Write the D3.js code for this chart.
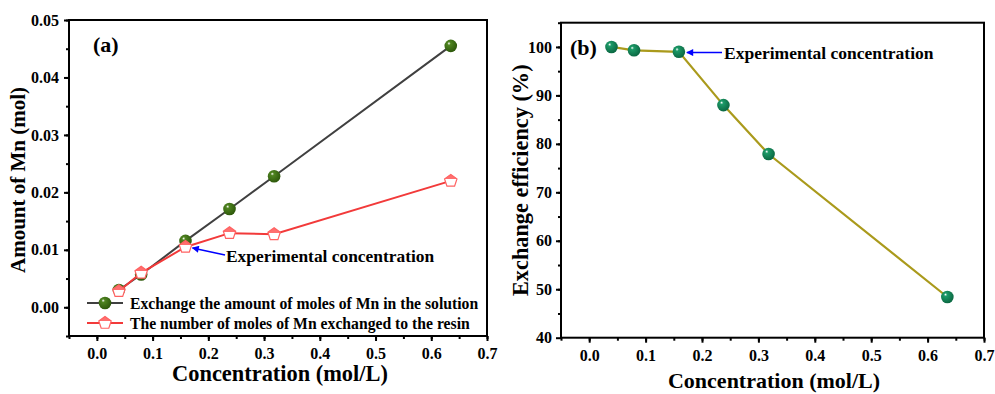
<!DOCTYPE html>
<html>
<head>
<meta charset="utf-8">
<script src="https://cdn.jsdelivr.net/npm/d3@7"></script>
<style>
  body { margin: 0; background: #fff; }
  svg text { font-family: "Liberation Serif", "Times New Roman", "DejaVu Serif", serif; font-weight: bold; fill: #000; }
</style>
</head>
<body>
<svg id="chart" width="995" height="394"></svg>
<script>
// values
const concentration = [0.0395, 0.0795, 0.159, 0.238, 0.318, 0.635];
const molesSolution = [0.0030, 0.0057, 0.01155, 0.0171, 0.0228, 0.0455];
const molesResin = [0.0028, 0.0060, 0.0105, 0.0129, 0.0127, 0.0220];
const efficiency = [100, 99.3, 99.0, 88.0, 77.9, 48.4];

const xTicks = [0, 0.1, 0.2, 0.3, 0.4, 0.5, 0.6, 0.7];
const yTicksA = [0, 0.01, 0.02, 0.03, 0.04, 0.05];
const yTicksB = [40, 50, 60, 70, 80, 90, 100];
const legendLabels = [
    'Exchange the amount of moles of Mn in the solution',
    'The number of moles of Mn exchanged to the resin'
];
const expIndex = 2; // experimental concentration point

const svg = d3.select('#chart');
const defs = svg.append('defs');

function sphere(id, base, dark) {
    const g = defs.append('radialGradient')
        .attr('id', id).attr('cx', '40%').attr('cy', '38%').attr('r', '60%')
        .attr('fx', '35%').attr('fy', '30%');
    g.append('stop').attr('offset', '0%').attr('stop-color', '#ffffff');
    g.append('stop').attr('offset', '22%').attr('stop-color', base);
    g.append('stop').attr('offset', '100%').attr('stop-color', dark);
}
sphere('ballA', '#4f8420', '#2f5a0c');
sphere('ballB', '#1c9a68', '#0c6a44');

const pentFill = defs.append('linearGradient')
    .attr('id', 'pent').attr('x1', 0).attr('y1', 0).attr('x2', 0).attr('y2', 1);
pentFill.append('stop').attr('offset', '0%').attr('stop-color', '#ff6f6f');
pentFill.append('stop').attr('offset', '42%').attr('stop-color', '#ff6f6f');
pentFill.append('stop').attr('offset', '42%').attr('stop-color', '#ffffff');
pentFill.append('stop').attr('offset', '100%').attr('stop-color', '#ffffff');

defs.append('marker')
    .attr('id', 'arrow').attr('viewBox', '0 0 10 10')
    .attr('refX', 9).attr('refY', 5)
    .attr('markerWidth', 10).attr('markerHeight', 7)
    .attr('markerUnits', 'userSpaceOnUse')
    .attr('orient', 'auto')
    .append('path').attr('d', 'M0,0 L10,5 L0,10 z').attr('fill', '#0000ff');

function pentagon(r) {
    const pts = d3.range(5).map(i => {
        const a = -Math.PI / 2 + i * 2 * Math.PI / 5;
        return [r * Math.cos(a), r * Math.sin(a)];
    });
    return 'M' + pts.join('L') + 'Z';
}

function frame(box, x, y, yFmt, yMinor, yPad) {
    const g = svg.append('g');

    g.append('g')
        .attr('transform', `translate(0,${box.bottom})`)
        .call(d3.axisBottom(x).tickValues(d3.range(-0.05, 0.7001, 0.05)).tickSize(3).tickFormat(''))
        .call(a => a.select('.domain').remove());
    g.append('g')
        .attr('transform', `translate(0,${box.bottom})`)
        .call(d3.axisBottom(x).tickValues(xTicks).tickSize(5).tickPadding(7).tickFormat(d3.format('.1f')))
        .call(a => a.select('.domain').remove())
        .call(a => a.selectAll('text').style('font-size', '16px'));

    g.append('g')
        .attr('transform', `translate(${box.left},0)`)
        .call(d3.axisLeft(y).tickValues(yMinor).tickSize(3).tickFormat(''))
        .call(a => a.select('.domain').remove());
    g.append('g')
        .attr('transform', `translate(${box.left},0)`)
        .call(d3.axisLeft(y).tickValues(box.yTicks).tickSize(5).tickPadding(yPad).tickFormat(yFmt))
        .call(a => a.select('.domain').remove())
        .call(a => a.selectAll('text').style('font-size', '16px'));

    g.selectAll('.tick line').attr('stroke', '#000').attr('stroke-width', 2);

    g.append('rect')
        .attr('x', box.left).attr('y', box.top)
        .attr('width', box.right - box.left).attr('height', box.bottom - box.top)
        .attr('fill', 'none').attr('stroke', '#000').attr('stroke-width', 2);
}

// ---------- panel (a)
const boxA = { left: 69, right: 487, top: 20, bottom: 336, yTicks: yTicksA };
const xA = d3.scaleLinear().domain([-0.05, 0.7]).range([boxA.left, boxA.right]);
const yA = d3.scaleLinear().domain([-0.005, 0.05]).range([boxA.bottom, boxA.top]);

frame(boxA, xA, yA, d3.format('.2f'), d3.range(-0.005, 0.0501, 0.005), 5);

const lineA = d3.line().x((d, i) => xA(concentration[i])).y(d => yA(d));

svg.append('path').datum(molesSolution)
    .attr('d', lineA).attr('fill', 'none').attr('stroke', '#404040').attr('stroke-width', 2);
svg.append('g').selectAll('circle').data(molesSolution).join('circle')
    .attr('cx', (d, i) => xA(concentration[i])).attr('cy', d => yA(d))
    .attr('r', 6.3).attr('fill', 'url(#ballA)');

svg.append('path').datum(molesResin)
    .attr('d', lineA).attr('fill', 'none').attr('stroke', '#f23a3a').attr('stroke-width', 2);
svg.append('g').selectAll('path').data(molesResin).join('path')
    .attr('transform', (d, i) => `translate(${xA(concentration[i])},${yA(d)})`)
    .attr('d', pentagon(6.5)).attr('fill', 'url(#pent)')
    .attr('stroke', '#ff6262').attr('stroke-width', 1.2);

svg.append('text').attr('x', 93).attr('y', 52).style('font-size', '22px').text('(a)');

// annotation (a)
const tipA = [xA(concentration[expIndex]) + 7, yA(molesResin[expIndex]) + 1];
svg.append('line')
    .attr('x1', 225).attr('y1', 255).attr('x2', tipA[0]).attr('y2', tipA[1])
    .attr('stroke', '#0000ff').attr('stroke-width', 1.5).attr('marker-end', 'url(#arrow)');
svg.append('text').attr('x', 226).attr('y', 262).style('font-size', '17.4px').text('Experimental concentration');

// legend (a)
const legA = svg.append('g');
legendLabels.forEach((lab, i) => {
    const ly = 303 + i * 20;
    const row = legA.append('g');
    row.append('line').attr('x1', 87).attr('x2', 123).attr('y1', ly).attr('y2', ly)
        .attr('stroke', i === 0 ? '#404040' : '#f23a3a').attr('stroke-width', 2);
    if (i === 0) {
        row.append('circle').attr('cx', 105).attr('cy', ly).attr('r', 6.3).attr('fill', 'url(#ballA)');
    } else {
        row.append('path').attr('transform', `translate(105,${ly})`).attr('d', pentagon(6.5))
            .attr('fill', 'url(#pent)').attr('stroke', '#ff6262').attr('stroke-width', 1.2);
    }
    row.append('text').attr('x', 130).attr('y', ly + 5.5).style('font-size', '15.7px').text(lab);
});

svg.append('text').attr('x', 280).attr('y', 381)
    .attr('text-anchor', 'middle').style('font-size', '22.4px').text('Concentration (mol/L)');
svg.append('text').attr('transform', `translate(25,${(boxA.top + boxA.bottom) / 2 + 2}) rotate(-90)`)
    .attr('text-anchor', 'middle').style('font-size', '21px').text('Amount of Mn (mol)');

// ---------- panel (b)
const boxB = { left: 561, right: 984, top: 22.7, bottom: 337.7, yTicks: yTicksB };
const xB = d3.scaleLinear().domain([-0.05, 0.7]).range([boxB.left, boxB.right]);
const yB = d3.scaleLinear().domain([40, 105]).range([boxB.bottom, boxB.top]);

frame(boxB, xB, yB, d3.format('d'), d3.range(45, 105.01, 5), 4);

const lineB = d3.line().x((d, i) => xB(concentration[i])).y(d => yB(d));
svg.append('path').datum(efficiency)
    .attr('d', lineB).attr('fill', 'none').attr('stroke', '#aa9a1c').attr('stroke-width', 2.2);
svg.append('g').selectAll('circle').data(efficiency).join('circle')
    .attr('cx', (d, i) => xB(concentration[i])).attr('cy', d => yB(d))
    .attr('r', 6.3).attr('fill', 'url(#ballB)');

svg.append('text').attr('x', 570).attr('y', 55).style('font-size', '22px').text('(b)');

const tipB = [xB(concentration[expIndex]) + 8, yB(efficiency[expIndex]) + 0.8];
svg.append('line')
    .attr('x1', 722).attr('y1', tipB[1]).attr('x2', tipB[0]).attr('y2', tipB[1])
    .attr('stroke', '#0000ff').attr('stroke-width', 1.5).attr('marker-end', 'url(#arrow)');
svg.append('text').attr('x', 724).attr('y', 59).style('font-size', '17.5px').text('Experimental concentration');

svg.append('text').attr('x', 774).attr('y', 388)
    .attr('text-anchor', 'middle').style('font-size', '22px').text('Concentration (mol/L)');
svg.append('text').attr('transform', `translate(528,${(boxB.top + boxB.bottom) / 2}) rotate(-90)`)
    .attr('text-anchor', 'middle').style('font-size', '22.3px').text('Exchange efficiency (%)');
</script>
</body>
</html>
